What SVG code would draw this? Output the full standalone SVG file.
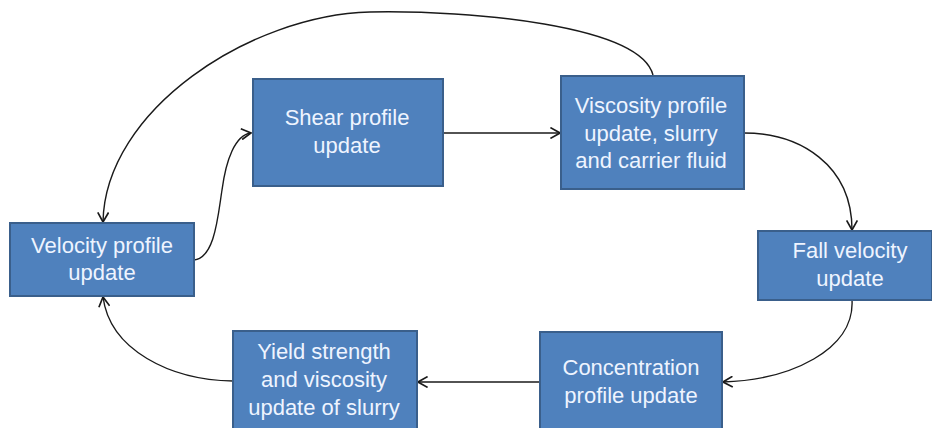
<svg xmlns="http://www.w3.org/2000/svg" width="932" height="428" viewBox="0 0 932 428">
<style>
.box{fill:#4F81BD;stroke:#3A5F8B;stroke-width:2}
.t{font-family:"Liberation Sans",Arial,sans-serif;font-size:22px;fill:#EEF4FF;text-anchor:middle}
.c{fill:none;stroke:#1a1a1a;stroke-width:1.4;marker-end:url(#ah)}
</style>
<defs>
<marker id="ah" markerWidth="12" markerHeight="12" refX="9" refY="5" orient="auto" markerUnits="userSpaceOnUse" viewBox="0 0 10 10">
<path d="M1,0.5 L9,5 L1,9.5" fill="none" stroke="#1a1a1a" stroke-width="1.4"/>
</marker>
</defs>
<rect width="932" height="428" fill="#fff"/>
<g id="connectors">
<path class="c" d="M194,260 C215,258 218,215 222,190 C226,160 235,135 251,133"/>
<path class="c" d="M443,133 L560,133"/>
<path class="c" d="M653,75 C640,25 470,10 370,12 C250,15 105,110 103,222"/>
<path class="c" d="M744,133 C800,133 852,165 852,230"/>
<path class="c" d="M852,300 C855,350 790,380 723,382"/>
<path class="c" d="M539,382 L418,382"/>
<path class="c" d="M233,381 C170,380 110,350 103,297"/>
</g>
<g id="velocity">
<rect class="box" x="10" y="223" width="184" height="73"/>
<text class="t" x="102" y="253">Velocity profile</text>
<text class="t" x="102" y="280">update</text>
</g>
<g id="shear">
<rect class="box" x="253" y="79" width="190" height="107"/>
<text class="t" x="347" y="125">Shear profile</text>
<text class="t" x="347" y="153">update</text>
</g>
<g id="viscosity">
<rect class="box" x="561" y="76" width="183" height="113"/>
<text class="t" x="651" y="113">Viscosity profile</text>
<text class="t" x="651" y="141">update, slurry</text>
<text class="t" x="651" y="168">and carrier fluid</text>
</g>
<g id="fall">
<rect class="box" x="758" y="231" width="174" height="69"/>
<text class="t" x="850" y="258">Fall velocity</text>
<text class="t" x="850" y="286">update</text>
</g>
<g id="concentration">
<rect class="box" x="540" y="332" width="182" height="100"/>
<text class="t" x="631" y="375">Concentration</text>
<text class="t" x="631" y="403">profile update</text>
</g>
<g id="yield">
<rect class="box" x="233" y="331" width="184" height="101"/>
<text class="t" x="324" y="359">Yield strength</text>
<text class="t" x="324" y="387">and viscosity</text>
<text class="t" x="324" y="415">update of slurry</text>
</g>
</svg>
